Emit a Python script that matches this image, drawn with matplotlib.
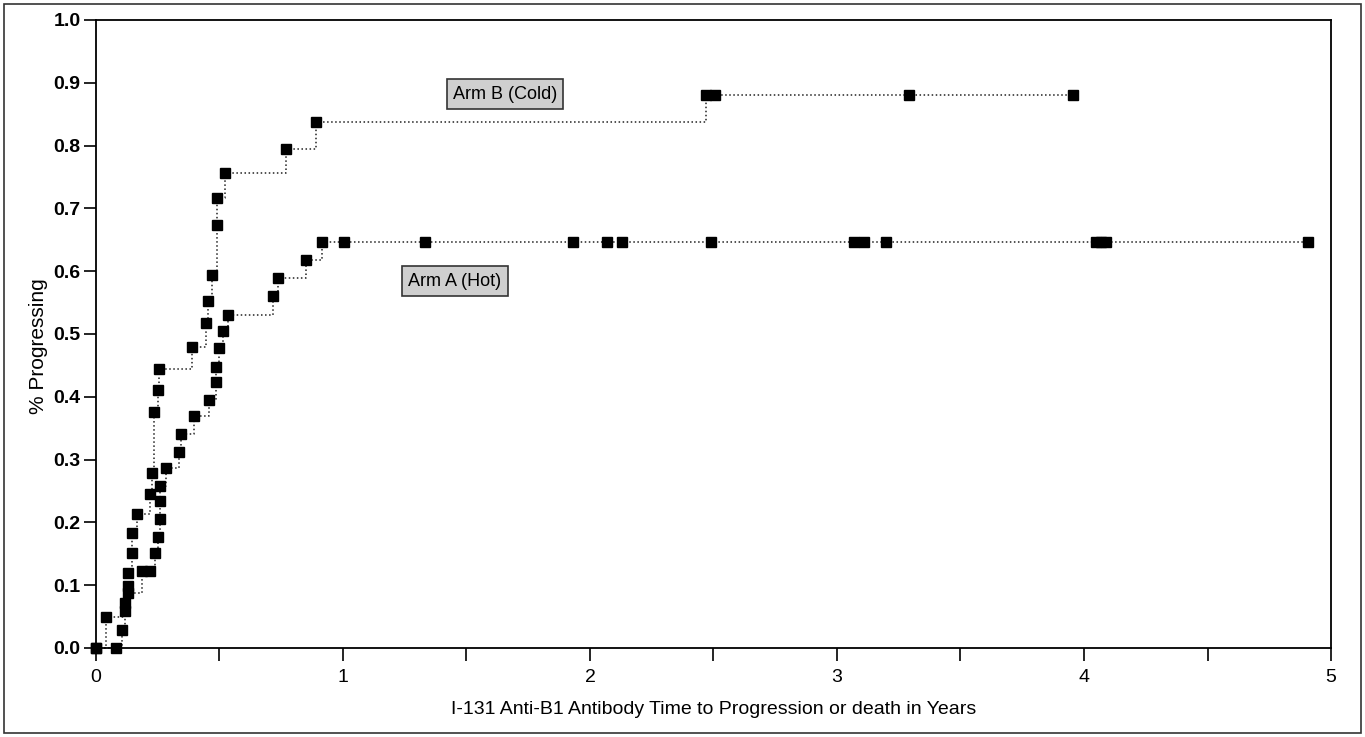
import matplotlib
matplotlib.use('Agg')
from matplotlib import pyplot as plt
from matplotlib.patches import Rectangle
from matplotlib.ticker import MultipleLocator

plt.rcParams['font.family'] = ['Liberation Sans', 'DejaVu Sans']

# Arm A (Hot) - times in years and cumulative fraction progressing
arm_a_t = [0.0, 0.081, 0.107, 0.117, 0.128, 0.186, 0.219, 0.239, 0.252, 0.259, 0.26, 0.26,
           0.284, 0.338, 0.345, 0.395, 0.459, 0.486, 0.486, 0.5, 0.516, 0.533, 0.718, 0.736,
           0.85, 0.914, 1.006, 1.332, 1.931, 2.07, 2.13, 2.49, 3.07, 3.11, 3.20, 4.05, 4.07,
           4.09, 4.905]
arm_a_y = [0.0, 0.0, 0.029, 0.059, 0.088, 0.123, 0.123, 0.152, 0.177, 0.205, 0.234, 0.258,
           0.286, 0.312, 0.34, 0.369, 0.395, 0.423, 0.448, 0.477, 0.505, 0.531, 0.56, 0.589,
           0.617, 0.646, 0.646, 0.646, 0.646, 0.646, 0.646, 0.646, 0.646, 0.646, 0.646, 0.646,
           0.646, 0.646, 0.646]

# Arm B (Cold)
arm_b_t = [0.0, 0.039, 0.118, 0.13, 0.13, 0.145, 0.145, 0.168, 0.219, 0.225, 0.233, 0.25,
           0.254, 0.388, 0.444, 0.452, 0.469, 0.491, 0.491, 0.523, 0.769, 0.891, 2.468,
           2.506, 3.29, 3.957]
arm_b_y = [0.0, 0.05, 0.072, 0.098, 0.119, 0.151, 0.183, 0.214, 0.245, 0.278, 0.375, 0.411,
           0.445, 0.48, 0.518, 0.553, 0.594, 0.674, 0.716, 0.757, 0.795, 0.837, 0.88, 0.88,
           0.88, 0.88]

x_ticks = [0, 1, 2, 3, 4, 5]
y_ticks = [0.0, 0.1, 0.2, 0.3, 0.4, 0.5, 0.6, 0.7, 0.8, 0.9, 1.0]

fig = plt.figure(figsize=(13.65, 7.37), dpi=100)
ax = fig.add_axes([0.0703, 0.1208, 0.9048, 0.8521])

for t, y in [(arm_a_t, arm_a_y), (arm_b_t, arm_b_y)]:
    ax.step(t, y, where='post', linestyle=':', color='#222222', lw=1.1, clip_on=False)
    ax.plot(t, y, 's', color='black', ms=7, clip_on=False, zorder=3)

ax.set_xlim(0, 5)
ax.set_ylim(0, 1)
ax.set_xticks(x_ticks)
ax.set_xticklabels([str(v) for v in x_ticks])
ax.xaxis.set_minor_locator(MultipleLocator(0.5))
ax.set_yticks(y_ticks)
ax.set_yticklabels(['%.1f' % v for v in y_ticks], fontweight='bold')
ax.tick_params(axis='both', which='both', direction='out', length=9, width=1.2, labelsize=14)
ax.tick_params(axis='x', pad=6)
ax.tick_params(axis='y', pad=2)
for s in ax.spines.values():
    s.set_linewidth(1.3)

ax.set_xlabel('I-131 Anti-B1 Antibody Time to Progression or death in Years', fontsize=14)
ax.xaxis.set_label_coords(0.5, -0.085)
ax.set_ylabel('% Progressing', fontsize=15)
ax.yaxis.set_label_coords(-0.039, 0.48)

box = dict(boxstyle='square,pad=0.35', facecolor='#cfcfcf', edgecolor='#333333', lw=1.2)
ax.text(1.656, 0.882, 'Arm B (Cold)', fontsize=13, ha='center', va='center', bbox=box)
ax.text(1.453, 0.584, 'Arm A (Hot)', fontsize=13, ha='center', va='center', bbox=box)

# thin frame round the whole page
fig.patches.append(Rectangle((0.003, 0.005), 0.994, 0.99, transform=fig.transFigure,
                             fill=False, lw=1.2, edgecolor='#333333'))

fig.savefig('out.png', dpi=100)
